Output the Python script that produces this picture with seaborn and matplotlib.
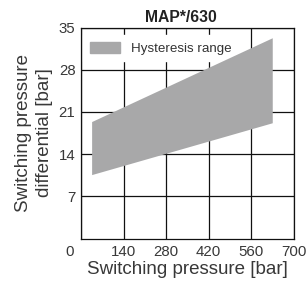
import matplotlib
matplotlib.use("Agg")
import matplotlib.pyplot as plt
import matplotlib.transforms as mtrans
import seaborn as sns
import pandas as pd
from matplotlib.patches import Patch

# hysteresis band
pressure = [35, 630]
upper = [19.4, 33.3]
lower = [10.6, 19.2]

xticks = [0, 140, 280, 420, 560, 700]
yticks = [7, 14, 21, 28, 35]

band = pd.DataFrame({"pressure": pressure, "upper": upper, "lower": lower})

sns.set_style("white")
plt.rcParams['font.family'] = ['Liberation Sans', 'DejaVu Sans']

fig = plt.figure(figsize=(3.06, 2.87), dpi=100)
ax = fig.add_axes([81/306, 1-238.5/287, 212.5/306, 211/287])

gray = "#a8a8a9"
ax.fill_between(band["pressure"], band["lower"], band["upper"], color=gray, lw=0, zorder=2)

ax.set_xlim(0, 700)
ax.set_ylim(0, 35)
ax.set_xticks(xticks)
ax.set_yticks(yticks)
ax.grid(True, color="#111111", lw=0.9)
ax.set_axisbelow(True)
for s in ax.spines.values():
    s.set_visible(True)
    s.set_color("#111111")
    s.set_linewidth(0.9)
txt = "#383838"
ax.tick_params(length=0, labelsize=10.8, colors=txt)
ax.tick_params(axis="y", pad=4)
ax.tick_params(axis="x", pad=5)

# origin label sits left of the corner
lab0 = ax.get_xticklabels()[0]
lab0.set_transform(lab0.get_transform() + mtrans.ScaledTranslation(-11/100, 0, fig.dpi_scale_trans))

ax.set_xlabel("Switching pressure [bar]", fontsize=13.5, color=txt, labelpad=1)
ax.set_ylabel("Switching pressure\ndifferential [bar]", fontsize=13.5, color=txt,
              labelpad=4, linespacing=1.3)
ax.set_title("MAP*/630", fontsize=11.3, fontweight="bold", color="#222222", pad=4, x=0.47)

leg = ax.legend(handles=[Patch(color=gray, label="Hysteresis range")], loc="upper left",
                frameon=True, fontsize=9.6, handlelength=2.3, handleheight=0.9,
                handletextpad=0.8, borderpad=0.5, borderaxespad=0,
                bbox_to_anchor=(0.01, 0.965))
leg.get_frame().set_edgecolor("white")
leg.get_frame().set_facecolor("white")
leg.get_frame().set_alpha(1)
leg.get_frame().set_boxstyle("square", pad=0)
leg.set_zorder(1)
for t in leg.get_texts():
    t.set_color("#333333")

fig.savefig("out.png", dpi=100)
